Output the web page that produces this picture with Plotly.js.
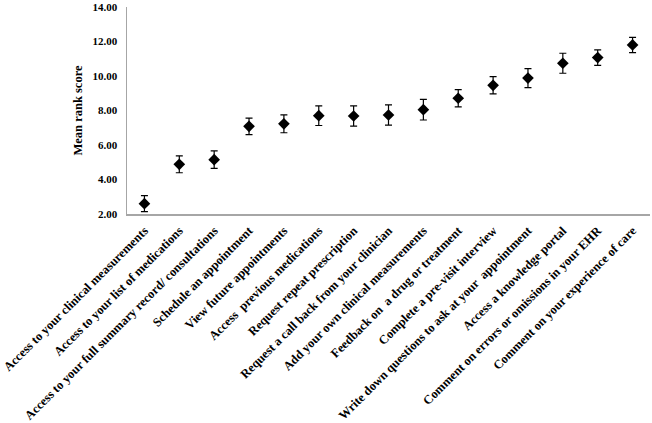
<!DOCTYPE html>
<html>
<head>
<meta charset="utf-8">
<script src="https://cdn.plot.ly/plotly-3.0.1.min.js"></script>
<style>html,body{margin:0;padding:0;background:#fff;}#chart{width:652px;height:423px;}</style>
</head>
<body>
<div id="chart"></div>
<script>
const categories = [
  "Access to your clinical measurements",
  "Access to your list of medications",
  "Access to your full summary record/ consultations",
  "Schedule an appointment",
  "View future appointments",
  "Access  previous medications",
  "Request repeat prescription",
  "Request a call back from your clinician",
  "Add your own clinical measurements",
  "Feedback on  a drug or treatment",
  "Complete a pre-visit interview",
  "Write down questions to ask at your  appointment",
  "Access a knowledge portal",
  "Comment on errors or omissions in your EHR",
  "Comment on your experience of care"
];
const meanRank = [2.60, 4.88, 5.15, 7.08, 7.23, 7.70, 7.68, 7.74, 8.05, 8.71, 9.46, 9.88, 10.74, 11.07, 11.80];
const errorHalf = [0.46, 0.49, 0.51, 0.48, 0.52, 0.57, 0.59, 0.59, 0.60, 0.50, 0.50, 0.55, 0.58, 0.45, 0.44];
const yTicks = [2, 4, 6, 8, 10, 12, 14];

const trace = {
  type: 'scatter',
  mode: 'markers',
  x: categories,
  y: meanRank,
  marker: {symbol: 'diamond', color: '#000', size: 9},
  error_y: {type: 'data', array: errorHalf, visible: true, color: '#000', thickness: 1.2, width: 3.5}
};
const fam = '"Liberation Serif", "Times New Roman", serif';
const layout = {
  width: 652, height: 423,
  margin: {l: 127, r: 2, t: 7, b: 209},
  paper_bgcolor: '#fff', plot_bgcolor: '#fff',
  showlegend: false,
  font: {family: fam, color: '#000', size: 11},
  xaxis: {
    type: 'category', range: [-0.5, 14.5],
    tickangle: -45, showgrid: false, zeroline: false,
    showline: true, linecolor: '#a6a6a6', linewidth: 1.5,
    ticks: '', ticklabelstandoff: 3,
    tickfont: {family: fam, size: 12.5, color: '#000', weight: 'bold'}
  },
  yaxis: {
    range: [2, 14], tickvals: yTicks, tickformat: '.2f',
    showgrid: false, zeroline: false,
    showline: true, linecolor: '#a6a6a6', linewidth: 1.5,
    ticks: '', ticklabelstandoff: 6, ticklabeloverflow: 'allow',
    tickfont: {family: fam, size: 11, color: '#000', weight: 'bold'},
    title: {text: 'Mean rank score', standoff: 7, font: {family: fam, size: 12.5, color: '#000', weight: 'bold'}}
  }
};
Plotly.newPlot('chart', [trace], layout, {displayModeBar: false, staticPlot: true});
</script>
</body>
</html>
